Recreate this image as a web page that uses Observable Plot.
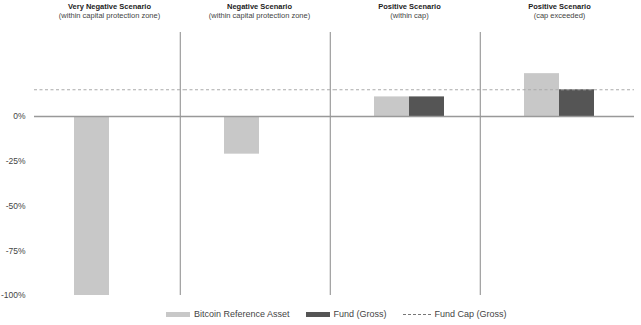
<!DOCTYPE html>
<html>
<head>
<meta charset="utf-8">
<script src="https://cdn.jsdelivr.net/npm/d3@7"></script>
<script src="https://cdn.jsdelivr.net/npm/@observablehq/plot@0.6"></script>
<style>
  html, body { margin: 0; padding: 0; background: #fff; }
  body { width: 641px; font-family: "Liberation Sans", Arial, sans-serif; }
  .legend { display: flex; align-items: center; height: 16px; margin-top: 6px; padding-left: 166px;
            font-size: 9px; color: #444; }
  .legend .item { display: flex; align-items: center; margin-right: 16px; }
  .legend .sw { width: 24px; height: 5px; margin-right: 4px; }
  .legend .dash { width: 28px; height: 0; border-top: 1px dashed #777; margin-right: 4px; }
</style>
</head>
<body>
<div id="chart"></div>
<div class="legend" id="legend"></div>
<script>
const scenarios = ["Very Negative Scenario", "Negative Scenario", "Positive Scenario (within cap)", "Positive Scenario (cap exceeded)"];
const titles = ["Very Negative Scenario", "Negative Scenario", "Positive Scenario", "Positive Scenario"];
const subtitles = ["(within capital protection zone)", "(within capital protection zone)", "(within cap)", "(cap exceeded)"];
const seriesNames = ["Bitcoin Reference Asset", "Fund (Gross)"];
const bitcoin = [-1.00, -0.21, 0.11, 0.24];
const fund = [0, 0, 0.11, 0.15];
const fundCap = 0.15;
const yTicks = [0, -0.25, -0.5, -0.75, -1];
const colors = ["#c8c8c8", "#555555"];

const data = [];
scenarios.forEach((s, i) => {
  data.push({scenario: s, series: seriesNames[0], value: bitcoin[i]});
  data.push({scenario: s, series: seriesNames[1], value: fund[i]});
});

const W = 641, mL = 33, mR = 6;
const facetW = (W - mL - mR) / scenarios.length;

const plot = Plot.plot({
  width: W,
  height: 300,
  marginTop: 32,
  marginBottom: 5,
  marginLeft: mL,
  marginRight: mR,
  style: {fontFamily: "Liberation Sans, Arial, sans-serif", background: "#fff"},
  fx: {domain: scenarios, padding: 0, axis: null},
  x: {domain: seriesNames, paddingInner: 0, paddingOuter: 1.09, axis: null},
  y: {domain: [-1, 0.47], ticks: yTicks, tickFormat: d => Math.round(d * 100) + "%", tickSize: 0, tickPadding: 9, label: null},
  color: {domain: seriesNames, range: colors},
  marks: [
    Plot.ruleX(scenarios.slice(1), {fx: d => d, x: null, dx: -facetW / 2 - 4, stroke: "#888", strokeWidth: 1}),
    Plot.barY(data, {fx: "scenario", x: "series", y: "value", fill: "series"}),
    Plot.ruleY([0], {stroke: "#999", strokeWidth: 1.5}),
    Plot.ruleY([fundCap], {stroke: "#aaa", strokeWidth: 1, strokeDasharray: "3,2.5"}),
    Plot.text(scenarios, {fx: d => d, text: (d, i) => titles[i], frameAnchor: "top", lineAnchor: "middle", dy: -25.5, fontWeight: "bold", fontSize: 7.5, fill: "#222"}),
    Plot.text(scenarios, {fx: d => d, text: (d, i) => subtitles[i], frameAnchor: "top", lineAnchor: "middle", dy: -16.5, fontSize: 7.5, fill: "#444"})
  ]
});
plot.querySelectorAll('g[aria-label="y-axis tick label"]').forEach(g => {
  g.setAttribute("font-size", "8.5");
  g.setAttribute("fill", "#444");
});
document.getElementById("chart").appendChild(plot);

const legend = document.getElementById("legend");
seriesNames.forEach((n, i) => {
  const it = document.createElement("div");
  it.className = "item";
  it.innerHTML = `<span class="sw" style="background:${colors[i]}"></span><span>${n}</span>`;
  legend.appendChild(it);
});
const cap = document.createElement("div");
cap.className = "item";
cap.innerHTML = `<span class="dash"></span><span>Fund Cap (Gross)</span>`;
legend.appendChild(cap);
</script>
</body>
</html>
